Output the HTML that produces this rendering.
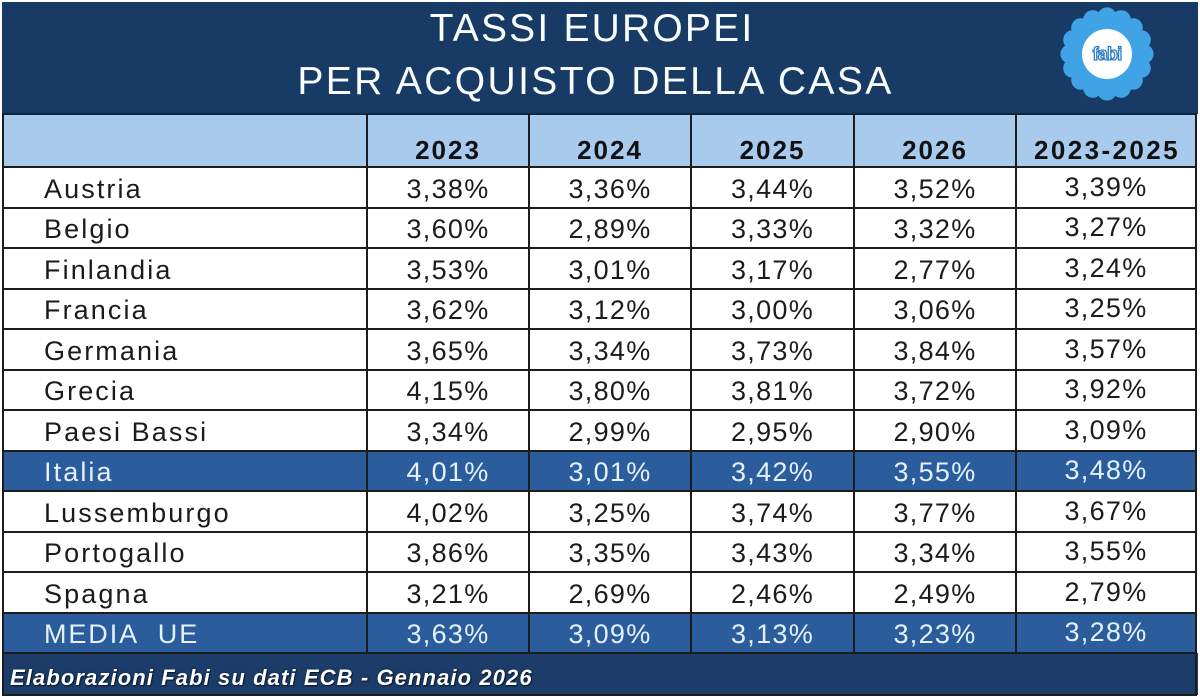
<!DOCTYPE html>
<html><head><meta charset="utf-8">
<style>
*{margin:0;padding:0;box-sizing:border-box}
html,body{width:1200px;height:697px;background:#fff;overflow:hidden}
body{position:relative;font-family:"Liberation Sans",Arial,sans-serif}
.abs{position:absolute}
.t{position:absolute;white-space:nowrap;font-size:27px;line-height:40px;color:#1b1b1b;letter-spacing:1.3px}
.n{letter-spacing:2.1px}
.c{text-align:center}
.h{position:absolute;white-space:nowrap;font-size:26px;font-weight:bold;line-height:40px;color:#111;letter-spacing:2px;text-align:center}
.hl{color:#e4f1ff}
.hline{position:absolute;left:3px;width:1194px;height:2px;background:#1c1c1c}
.vline{position:absolute;top:114px;width:2px;height:540px;background:#1c1c1c}
</style></head><body>
<!-- title band -->
<div class="abs" style="left:2px;top:2px;width:1196px;height:112px;background:#183b65"></div>
<!-- header band -->
<div class="abs" style="left:3px;top:114px;width:1193px;height:53px;background:#a8caec"></div>
<!-- highlight rows -->
<div class="abs" style="left:3px;top:450.5px;width:1193px;height:40.5px;background:#2b5d9c"></div>
<div class="abs" style="left:3px;top:612.5px;width:1193px;height:40.5px;background:#2b5d9c"></div>
<!-- footer band -->
<div class="abs" style="left:2px;top:653px;width:1196px;height:42px;background:#1c3d69"></div>

<!-- title -->
<div class="abs" style="left:3px;top:3.5px;width:1178px;text-align:center;color:#fafcff;font-size:39px;line-height:50px;letter-spacing:2.2px">TASSI EUROPEI</div>
<div class="abs" style="left:3px;top:56.5px;width:1185px;text-align:center;color:#fafcff;font-size:39px;line-height:50px;letter-spacing:2.4px">PER ACQUISTO DELLA CASA</div>

<!-- logo -->
<svg class="abs" style="left:1057px;top:4px" width="100" height="100" viewBox="0 0 100 100">
<g fill="#3fa3e6">
<circle cx="50" cy="50" r="30"/>
<circle cx="50.0" cy="13.0" r="9.6"/><circle cx="64.2" cy="15.8" r="9.6"/><circle cx="76.2" cy="23.8" r="9.6"/><circle cx="84.2" cy="35.8" r="9.6"/>
<circle cx="87.0" cy="50.0" r="9.6"/><circle cx="84.2" cy="64.2" r="9.6"/><circle cx="76.2" cy="76.2" r="9.6"/><circle cx="64.2" cy="84.2" r="9.6"/>
<circle cx="50.0" cy="87.0" r="9.6"/><circle cx="35.8" cy="84.2" r="9.6"/><circle cx="23.8" cy="76.2" r="9.6"/><circle cx="15.8" cy="64.2" r="9.6"/>
<circle cx="13.0" cy="50.0" r="9.6"/><circle cx="15.8" cy="35.8" r="9.6"/><circle cx="23.8" cy="23.8" r="9.6"/><circle cx="35.8" cy="15.8" r="9.6"/>
</g>
<circle cx="50" cy="50" r="25" fill="#ffffff"/>
<text x="50" y="56" text-anchor="middle" font-family="Liberation Sans, sans-serif" font-size="18" font-weight="bold" fill="#ffffff" stroke="#2a7fc4" stroke-width="1.3" letter-spacing="-0.8">fabi</text>
</svg>

<!-- grid lines -->
<div class="hline" style="top:113px;height:1.5px;background:#10243d"></div>
<div class="hline" style="top:166px"></div>
<div class="hline" style="top:206.5px"></div>
<div class="hline" style="top:247px"></div>
<div class="hline" style="top:287.5px"></div>
<div class="hline" style="top:328px"></div>
<div class="hline" style="top:368.5px"></div>
<div class="hline" style="top:409px"></div>
<div class="hline" style="top:449.5px"></div>
<div class="hline" style="top:490px"></div>
<div class="hline" style="top:530.5px"></div>
<div class="hline" style="top:571px"></div>
<div class="hline" style="top:611.5px"></div>
<div class="hline" style="top:652px"></div>
<div class="vline" style="left:366px"></div>
<div class="vline" style="left:528px"></div>
<div class="vline" style="left:690px"></div>
<div class="vline" style="left:853px"></div>
<div class="vline" style="left:1015px"></div>
<!-- outer border -->
<div class="abs" style="left:2px;top:113px;width:2px;height:582px;background:#1c1c1c"></div>
<div class="abs" style="left:1195px;top:113px;width:2px;height:582px;background:#1c1c1c"></div>
<div class="abs" style="left:2px;top:694px;width:1195px;height:2px;background:#1c1c1c"></div>

<!-- header -->
<div class="h" style="left:367px;width:162px;top:130px">2023</div>
<div class="h" style="left:529px;width:162px;top:130px">2024</div>
<div class="h" style="left:691px;width:163px;top:130px">2025</div>
<div class="h" style="left:854px;width:162px;top:130px">2026</div>
<div class="h" style="left:1016px;width:182px;top:130px;letter-spacing:2.4px">2023-2025</div>

<!-- rows -->
<div class="t n" style="left:44px;top:168.6px">Austria</div>
<div class="t c" style="left:367px;width:162px;top:168.6px">3,38%</div>
<div class="t c" style="left:529px;width:162px;top:168.6px">3,36%</div>
<div class="t c" style="left:691px;width:163px;top:168.6px">3,44%</div>
<div class="t c" style="left:854px;width:162px;top:168.6px">3,52%</div>
<div class="t c" style="left:1016px;width:180px;top:166.6px">3,39%</div>

<div class="t n" style="left:44px;top:209.1px">Belgio</div>
<div class="t c" style="left:367px;width:162px;top:209.1px">3,60%</div>
<div class="t c" style="left:529px;width:162px;top:209.1px">2,89%</div>
<div class="t c" style="left:691px;width:163px;top:209.1px">3,33%</div>
<div class="t c" style="left:854px;width:162px;top:209.1px">3,32%</div>
<div class="t c" style="left:1016px;width:180px;top:207.1px">3,27%</div>

<div class="t n" style="left:44px;top:249.6px">Finlandia</div>
<div class="t c" style="left:367px;width:162px;top:249.6px">3,53%</div>
<div class="t c" style="left:529px;width:162px;top:249.6px">3,01%</div>
<div class="t c" style="left:691px;width:163px;top:249.6px">3,17%</div>
<div class="t c" style="left:854px;width:162px;top:249.6px">2,77%</div>
<div class="t c" style="left:1016px;width:180px;top:247.6px">3,24%</div>

<div class="t n" style="left:44px;top:290.1px">Francia</div>
<div class="t c" style="left:367px;width:162px;top:290.1px">3,62%</div>
<div class="t c" style="left:529px;width:162px;top:290.1px">3,12%</div>
<div class="t c" style="left:691px;width:163px;top:290.1px">3,00%</div>
<div class="t c" style="left:854px;width:162px;top:290.1px">3,06%</div>
<div class="t c" style="left:1016px;width:180px;top:288.1px">3,25%</div>

<div class="t n" style="left:44px;top:330.6px">Germania</div>
<div class="t c" style="left:367px;width:162px;top:330.6px">3,65%</div>
<div class="t c" style="left:529px;width:162px;top:330.6px">3,34%</div>
<div class="t c" style="left:691px;width:163px;top:330.6px">3,73%</div>
<div class="t c" style="left:854px;width:162px;top:330.6px">3,84%</div>
<div class="t c" style="left:1016px;width:180px;top:328.6px">3,57%</div>

<div class="t n" style="left:44px;top:371.1px">Grecia</div>
<div class="t c" style="left:367px;width:162px;top:371.1px">4,15%</div>
<div class="t c" style="left:529px;width:162px;top:371.1px">3,80%</div>
<div class="t c" style="left:691px;width:163px;top:371.1px">3,81%</div>
<div class="t c" style="left:854px;width:162px;top:371.1px">3,72%</div>
<div class="t c" style="left:1016px;width:180px;top:369.1px">3,92%</div>

<div class="t n" style="left:44px;top:411.6px">Paesi Bassi</div>
<div class="t c" style="left:367px;width:162px;top:411.6px">3,34%</div>
<div class="t c" style="left:529px;width:162px;top:411.6px">2,99%</div>
<div class="t c" style="left:691px;width:163px;top:411.6px">2,95%</div>
<div class="t c" style="left:854px;width:162px;top:411.6px">2,90%</div>
<div class="t c" style="left:1016px;width:180px;top:409.6px">3,09%</div>

<div class="t n hl" style="left:44px;top:452.1px">Italia</div>
<div class="t c hl" style="left:367px;width:162px;top:452.1px">4,01%</div>
<div class="t c hl" style="left:529px;width:162px;top:452.1px">3,01%</div>
<div class="t c hl" style="left:691px;width:163px;top:452.1px">3,42%</div>
<div class="t c hl" style="left:854px;width:162px;top:452.1px">3,55%</div>
<div class="t c hl" style="left:1016px;width:180px;top:450.1px">3,48%</div>

<div class="t n" style="left:44px;top:492.6px">Lussemburgo</div>
<div class="t c" style="left:367px;width:162px;top:492.6px">4,02%</div>
<div class="t c" style="left:529px;width:162px;top:492.6px">3,25%</div>
<div class="t c" style="left:691px;width:163px;top:492.6px">3,74%</div>
<div class="t c" style="left:854px;width:162px;top:492.6px">3,77%</div>
<div class="t c" style="left:1016px;width:180px;top:490.6px">3,67%</div>

<div class="t n" style="left:44px;top:533.1px">Portogallo</div>
<div class="t c" style="left:367px;width:162px;top:533.1px">3,86%</div>
<div class="t c" style="left:529px;width:162px;top:533.1px">3,35%</div>
<div class="t c" style="left:691px;width:163px;top:533.1px">3,43%</div>
<div class="t c" style="left:854px;width:162px;top:533.1px">3,34%</div>
<div class="t c" style="left:1016px;width:180px;top:531.1px">3,55%</div>

<div class="t n" style="left:44px;top:573.6px">Spagna</div>
<div class="t c" style="left:367px;width:162px;top:573.6px">3,21%</div>
<div class="t c" style="left:529px;width:162px;top:573.6px">2,69%</div>
<div class="t c" style="left:691px;width:163px;top:573.6px">2,46%</div>
<div class="t c" style="left:854px;width:162px;top:573.6px">2,49%</div>
<div class="t c" style="left:1016px;width:180px;top:571.6px">2,79%</div>

<div class="t hl" style="left:44px;top:614.1px;letter-spacing:1.9px">MEDIA&nbsp; UE</div>
<div class="t c hl" style="left:367px;width:162px;top:614.1px">3,63%</div>
<div class="t c hl" style="left:529px;width:162px;top:614.1px">3,09%</div>
<div class="t c hl" style="left:691px;width:163px;top:614.1px">3,13%</div>
<div class="t c hl" style="left:854px;width:162px;top:614.1px">3,23%</div>
<div class="t c hl" style="left:1016px;width:180px;top:612.1px">3,28%</div>

<!-- footer -->
<div class="abs" style="left:10px;top:657px;font-size:22px;line-height:41px;font-weight:bold;font-style:italic;color:#fff;letter-spacing:1.1px;white-space:nowrap;text-shadow:0 0 2px #0a1a30,1px 1px 1px #0a1a30">Elaborazioni Fabi su dati ECB - Gennaio 2026</div>
</body></html>
